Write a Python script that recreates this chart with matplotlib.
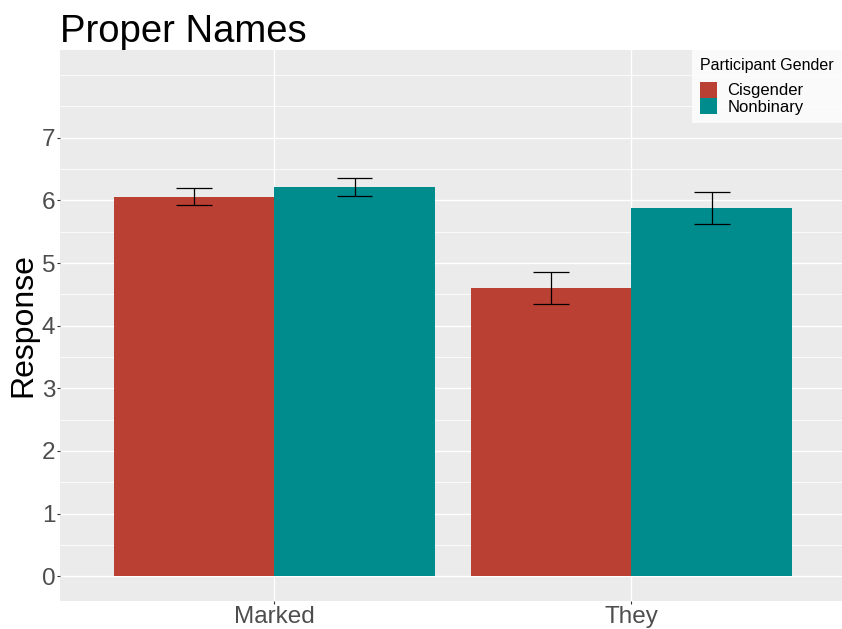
import matplotlib
matplotlib.use("Agg")
import matplotlib.pyplot as plt
import numpy as np

plt.rcParams['font.family'] = ['Liberation Sans', 'DejaVu Sans']

# Data
categories = ["Marked", "They"]
groups = ["Cisgender", "Nonbinary"]
means_cis = [6.05, 4.60]
means_nb = [6.21, 5.88]
lo_cis = [5.93, 4.35]
hi_cis = [6.19, 4.86]
lo_nb = [6.065, 5.63]
hi_nb = [6.35, 6.14]
yticks = [0, 1, 2, 3, 4, 5, 6, 7]

colors = {"Cisgender": "#BB4034", "Nonbinary": "#008B8D"}

W, H = 842, 629
fig = plt.figure(figsize=(W / 100, H / 100), dpi=100)
fig.patch.set_facecolor("white")
ax = fig.add_axes([60 / W, (H - 601) / H, (W - 60) / W, (601 - 50) / H])
ax.set_facecolor("#EBEBEB")

x = np.arange(1, len(categories) + 1)
bw = 0.45
bars = []
for off, means, lo, hi, g in [(-bw / 2, means_cis, lo_cis, hi_cis, "Cisgender"),
                              (bw / 2, means_nb, lo_nb, hi_nb, "Nonbinary")]:
    b = ax.bar(x + off, means, width=bw, color=colors[g], label=g, zorder=3)
    bars.append(b)
    m = np.array(means)
    yerr = np.vstack([m - np.array(lo), np.array(hi) - m])
    ax.errorbar(x + off, m, yerr=yerr, fmt="none", ecolor="black",
                elinewidth=0.9, capsize=0, zorder=4)
    for xi, l, h in zip(x + off, lo, hi):
        ax.hlines([l, h], xi - 0.05, xi + 0.05, color="black", lw=0.9, zorder=4)

ax.set_xlim(0.4, 2.59)
ax.set_ylim(-0.395, 8.40)

# grid
for v in np.arange(0, 8.5, 0.5):
    major = float(v).is_integer() and v <= 7
    ax.axhline(v, color="white", lw=1.0 if major else 0.55, zorder=1)
for xi in x:
    ax.axvline(xi, color="white", lw=1.0, zorder=1)

ax.set_yticks(yticks)
ax.set_yticklabels([str(t) for t in yticks])
ax.set_xticks(x)
ax.set_xticklabels(categories)
ax.tick_params(axis="both", length=2.5, width=0.8, color="#333333",
               labelcolor="#4D4D4D", labelsize=17.5, pad=1)
for s in ax.spines.values():
    s.set_visible(False)

ax.set_ylabel("Response", fontsize=23, color="black", labelpad=2)
fig.text(60 / W, 1 - 42 / H, "Proper Names", fontsize=27.5, color="black",
         ha="left", va="baseline")

leg = fig.legend(handles=bars, labels=groups, loc="upper right",
                 bbox_to_anchor=(1.0, 1 - 50 / H), title="Participant Gender",
                 fontsize=12, title_fontsize=11.5, frameon=True, fancybox=False,
                 handlelength=1.0, handleheight=1.1, labelspacing=0.0,
                 handletextpad=0.65, borderpad=0.5, borderaxespad=0)
leg.get_frame().set_facecolor("white")
leg.get_frame().set_edgecolor("white")
leg.get_frame().set_linewidth(0)
leg._legend_box.align = "left"
leg._legend_box.sep = 6

fig.savefig("out.png", dpi=100)
